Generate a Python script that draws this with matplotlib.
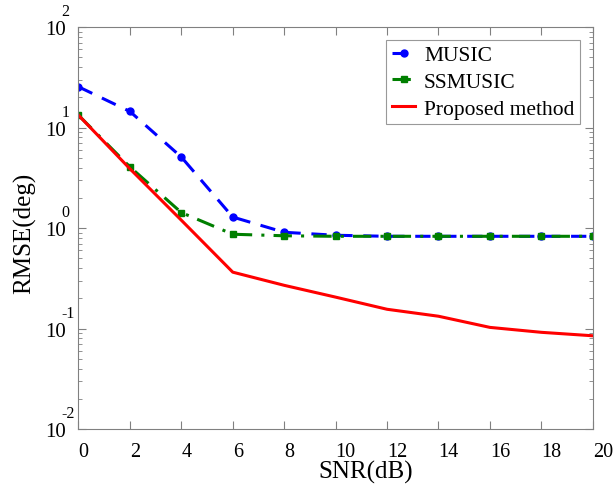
import matplotlib
matplotlib.use("Agg")
import matplotlib.pyplot as plt
from matplotlib.ticker import LogLocator, NullFormatter

plt.rcParams['font.family'] = ['Liberation Serif', 'DejaVu Serif']

snr = [0, 2, 4, 6, 8, 10, 12, 14, 16, 18, 20]
music = [25.5, 14.5, 5.1, 1.29, 0.91, 0.85, 0.83, 0.83, 0.83, 0.83, 0.83]
ssmusic = [13.3, 4.07, 1.43, 0.87, 0.84, 0.83, 0.83, 0.83, 0.83, 0.83, 0.83]
proposed = [13.3, 3.9, 1.2, 0.365, 0.27, 0.206, 0.156, 0.133, 0.103, 0.092, 0.085]
xticks = [0, 2, 4, 6, 8, 10, 12, 14, 16, 18, 20]
yexps = [-2, -1, 0, 1, 2]

fig = plt.figure(figsize=(6.13, 4.85), dpi=100)
ax = fig.add_axes([0.128, 0.113, 0.839, 0.829])

ax.plot(snr, music, color='#0000ff', lw=2.2, ls=(0, (5, 3.5)), marker='o', ms=5,
        label='MUSIC')
ax.plot(snr, ssmusic, color='#007f00', lw=2.2, ls=(0, (6, 3, 1, 3)), marker='s', ms=5,
        label='SSMUSIC')
ax.plot(snr, proposed, color='#ff0000', lw=2.2, ls='-', label='Proposed method')

ax.set_yscale('log')
ax.set_xlim(0, 20)
ax.set_ylim(1e-2, 1e2)
ax.set_xticks(xticks)
ax.set_xticklabels([str(t) for t in xticks], ha='left')
ax.set_yticks([10.0 ** e for e in yexps])
ax.set_yticklabels(['10' for e in yexps])
ax.yaxis.set_minor_locator(LogLocator(base=10, subs=range(2, 10), numticks=20))
ax.yaxis.set_minor_formatter(NullFormatter())

for s in ax.spines.values():
    s.set_color('#808080')
ax.tick_params(which='both', direction='in', top=True, right=True, color='#808080',
               labelcolor='black')
ax.tick_params(which='major', length=6)
ax.tick_params(which='minor', length=3)
ax.tick_params(axis='y', labelsize=15, pad=9)
ax.tick_params(axis='x', labelsize=14.5, pad=9.5)

# exponents of the y tick labels (MATLAB style)
for e in yexps:
    ax.annotate(str(e), xy=(0, 10.0 ** e), xycoords=('axes fraction', 'data'),
                xytext=(-17, 8), textcoords='offset pixels', ha='left', va='bottom',
                fontsize=11.5)

ax.set_xlabel('SNR(dB)', fontsize=18)
ax.xaxis.set_label_coords(0.558, -0.076)
ax.set_ylabel('RMSE(deg)', fontsize=18)
ax.yaxis.set_label_coords(-0.083, 0.49)

leg = ax.legend(loc='upper right', fontsize=15.5, frameon=True, fancybox=False,
                edgecolor='#808080', borderaxespad=0.6, handlelength=1.1,
                handletextpad=0.4, labelspacing=0.3, borderpad=0.25)
leg.get_frame().set_linewidth(0.8)

fig.savefig('out.png', dpi=100)
